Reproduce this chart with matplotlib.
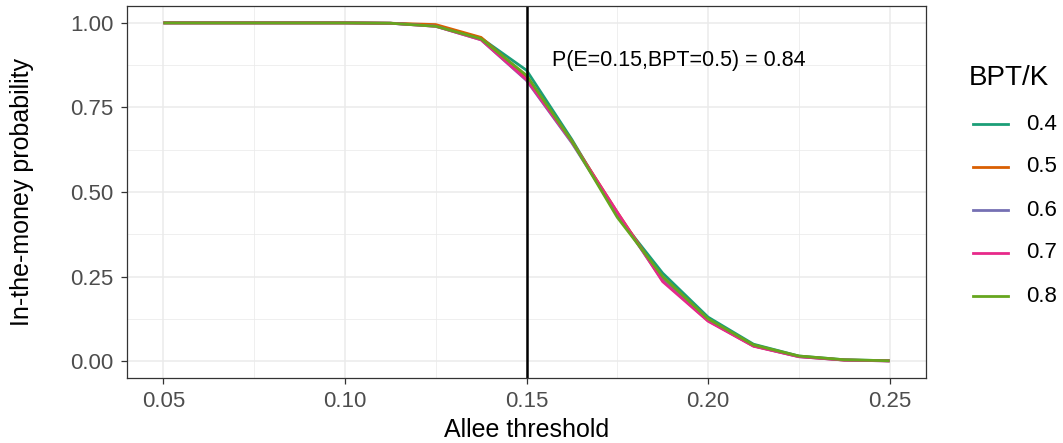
import matplotlib
matplotlib.use("Agg")
import matplotlib.pyplot as plt
from matplotlib.lines import Line2D

# данные
allee = [0.05, 0.0625, 0.075, 0.0875, 0.1, 0.1125, 0.125, 0.1375, 0.15,
         0.1625, 0.175, 0.1875, 0.2, 0.2125, 0.225, 0.2375, 0.25]
bpt_levels = ["0.4", "0.5", "0.6", "0.7", "0.8"]
prob_04 = [1, 1, 1, 1, 1, 0.999, 0.992, 0.955, 0.86, 0.655, 0.43, 0.26, 0.13, 0.05, 0.015, 0.004, 0.001]
prob_05 = [1, 1, 1, 1, 1, 0.999, 0.995, 0.957, 0.84, 0.65, 0.44, 0.24, 0.12, 0.045, 0.014, 0.003, 0.001]
prob_06 = [1, 1, 1, 1, 1, 0.999, 0.99, 0.95, 0.83, 0.645, 0.435, 0.238, 0.12, 0.045, 0.013, 0.003, 0.0005]
prob_07 = [1, 1, 1, 1, 1, 0.999, 0.99, 0.95, 0.832, 0.648, 0.44, 0.235, 0.118, 0.044, 0.013, 0.003, 0.0005]
prob_08 = [1, 1, 1, 1, 1, 0.999, 0.99, 0.953, 0.845, 0.65, 0.425, 0.25, 0.125, 0.048, 0.015, 0.004, 0.001]
series = [prob_04, prob_05, prob_06, prob_07, prob_08]
colors = ["#1B9E77", "#D95F02", "#7570B3", "#E7298A", "#66A61E"]

vline_x = 0.15
note = "P(E=0.15,BPT=0.5) = 0.84"

plt.rcParams['font.family'] = ['Liberation Sans', 'DejaVu Sans']

W, H = 1063, 443
fig = plt.figure(figsize=(W / 100, H / 100), dpi=100)
ax = fig.add_axes([0.1195, 0.1467, 0.7516, 0.8398])

for lab, ys, c in zip(bpt_levels, series, colors):
    ax.plot(allee, ys, color=c, lw=2.0, label=lab, solid_capstyle='butt')

ax.axvline(vline_x, color='black', lw=1.8)
ax.text(0.192, 0.89, note, ha='center', va='center', fontsize=15.5, color='black')

ax.set_xlim(0.04, 0.26)
ax.set_ylim(-0.05, 1.05)
ax.set_xticks([0.05, 0.10, 0.15, 0.20, 0.25])
ax.set_xticklabels(["0.05", "0.10", "0.15", "0.20", "0.25"])
ax.set_yticks([0, 0.25, 0.5, 0.75, 1.0])
ax.set_yticklabels(["0.00", "0.25", "0.50", "0.75", "1.00"])
ax.set_xticks([0.075, 0.125, 0.175, 0.225], minor=True)
ax.set_yticks([0.125, 0.375, 0.625, 0.875], minor=True)
ax.grid(True, which='major', color='#EBEBEB', lw=1.1)
ax.grid(True, which='minor', color='#EBEBEB', lw=0.55)
ax.set_axisbelow(True)
ax.tick_params(which='major', length=4, color='#333333', labelsize=16, labelcolor='#4D4D4D', width=0.9)
ax.tick_params(axis='y', pad=6)
ax.tick_params(axis='x', pad=5)
ax.tick_params(which='minor', length=0)
for s in ax.spines.values():
    s.set_color('#333333')
    s.set_linewidth(0.9)

ax.set_xlabel("Allee threshold", fontsize=18, labelpad=5)
ax.set_ylabel("In-the-money probability", fontsize=18, labelpad=26)

# легенда вручную (позиции в пикселях фигуры)
fig.text(969 / W, 1 - 78 / H, "BPT/K", fontsize=20, ha='left', va='center')
for i, (lab, c) in enumerate(zip(bpt_levels, colors)):
    yy = 1 - (124 + 43 * i) / H
    fig.add_artist(Line2D([973 / W, 1008 / W], [yy, yy], color=c, lw=2.0,
                          transform=fig.transFigure))
    fig.text(1026 / W, yy, lab, fontsize=16, ha='left', va='center')

fig.savefig("out.png", dpi=100)
